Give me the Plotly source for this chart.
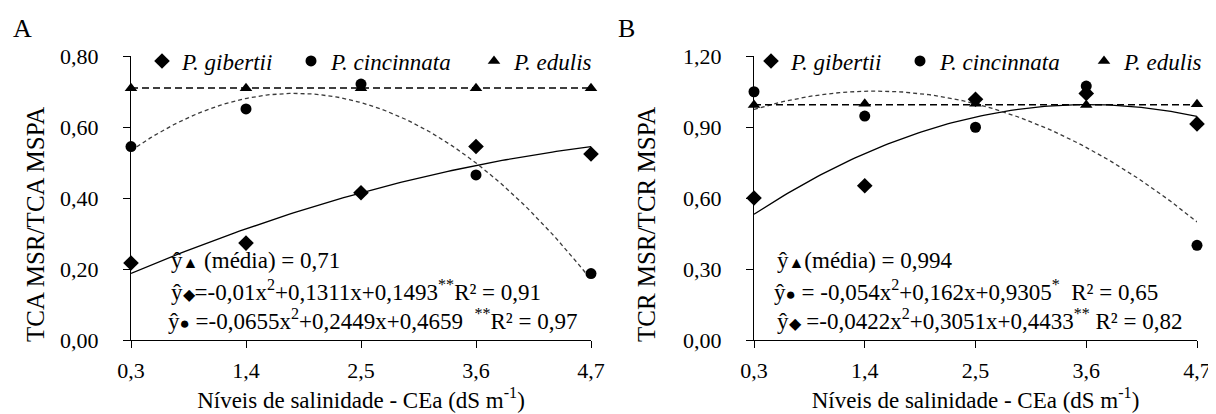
import numpy as np
import plotly.graph_objects as go

# the page body has an 8px default margin; the figure is sized to fill the rest
PAGE_W, PAGE_H, OFF = 1216, 414, 8
W, H = PAGE_W - OFF, PAGE_H - OFF
SERIF = "Liberation Serif"

# ---------------- data ----------------
salinity = [0.3, 1.4, 2.5, 3.6, 4.7]
salinity_labels = ["0,3", "1,4", "2,5", "3,6", "4,7"]
species = ["P. gibertii", "P. cincinnata", "P. edulis"]

# Panel A: TCA MSR/TCA MSPA
a_gibertii = [0.217, 0.273, 0.415, 0.545, 0.524]
a_cincinnata = [0.545, 0.651, 0.721, 0.465, 0.187]
a_edulis = [0.709, 0.709, 0.709, 0.709, 0.709]
a_edulis_mean = 0.71
a_gibertii_coef = [-0.01, 0.1311, 0.1493]
a_cincinnata_coef = [-0.0655, 0.2449, 0.4659]
a_yticks = [0.0, 0.2, 0.4, 0.6, 0.8]
a_ytitle = "TCA MSR/TCA MSPA"
a_eq = [
    "ŷ<span style='font-size:16px'>▲</span> (média) = 0,71",
    "ŷ<span style='font-size:16px'>◆</span>=-0,01x<sup>2</sup>+0,1311x+0,1493<sup>**</sup>R² = 0,91",
    "ŷ<span style='font-size:17px'>●</span> =-0,0655x<sup>2</sup>+0,2449x+0,4659\u00a0\u00a0<sup>**</sup>R² = 0,97",
]

# Panel B: TCR MSR/TCR MSPA
b_gibertii = [0.600, 0.652, 1.017, 1.042, 0.913]
b_cincinnata = [1.049, 0.946, 0.899, 1.073, 0.400]
b_edulis = [0.993, 0.998, 0.998, 0.993, 0.996]
b_edulis_mean = 0.994
b_gibertii_coef = [-0.0422, 0.3051, 0.4433]
b_cincinnata_coef = [-0.054, 0.162, 0.9305]
b_yticks = [0.0, 0.3, 0.6, 0.9, 1.2]
b_ytitle = "TCR MSR/TCR MSPA"
b_eq = [
    "ŷ<span style='font-size:16px'>▲</span>(média) = 0,994",
    "ŷ<span style='font-size:17px'>●</span> = -0,054x<sup>2</sup>+0,162x+0,9305<sup>*</sup>\u00a0 R² = 0,65",
    "ŷ<span style='font-size:16px'>◆</span> =-0,0422x<sup>2</sup>+0,3051x+0,4433<sup>**</sup> R² = 0,82",
]

xtitle = "Níveis de salinidade - CEa (dS m<sup>-1</sup>)"


def px_x(p):
    return (p - OFF) / W


def px_y(p):
    return 1 - (p - OFF) / H


fig = go.Figure()
x_fit = np.linspace(salinity[0], salinity[-1], 120)
symbols = [("diamond", 12), ("circle", 11), ("triangle-up", 11)]


def add_panel(xa, ya, legs, series, edu_mean, gcoef, ccoef):
    # fitted curves
    fig.add_trace(go.Scatter(x=x_fit, y=np.polyval(gcoef, x_fit), mode="lines",
                             line=dict(color="black", width=1.3), showlegend=False,
                             xaxis=xa, yaxis=ya, hoverinfo="skip"))
    fig.add_trace(go.Scatter(x=x_fit, y=np.polyval(ccoef, x_fit), mode="lines",
                             line=dict(color="#3a3a3a", width=1.3, dash="4px,3px"),
                             showlegend=False, xaxis=xa, yaxis=ya, hoverinfo="skip"))
    fig.add_trace(go.Scatter(x=[salinity[0], salinity[-1]], y=[edu_mean, edu_mean],
                             mode="lines", line=dict(color="black", width=1.4, dash="7px,4px"),
                             showlegend=False, xaxis=xa, yaxis=ya, hoverinfo="skip"))
    # observed points
    for vals, name, (sym, size), leg in zip(series, species, symbols, legs):
        fig.add_trace(go.Scatter(x=salinity, y=vals, mode="markers", name=f"<i>{name}</i>",
                                 marker=dict(symbol=sym, size=size, color="black"),
                                 cliponaxis=False, xaxis=xa, yaxis=ya, legend=leg))


add_panel("x", "y", ["legend", "legend2", "legend3"],
          [a_gibertii, a_cincinnata, a_edulis], a_edulis_mean, a_gibertii_coef, a_cincinnata_coef)
add_panel("x2", "y2", ["legend4", "legend5", "legend6"],
          [b_gibertii, b_cincinnata, b_edulis], b_edulis_mean, b_gibertii_coef, b_cincinnata_coef)

tickfont = dict(family=SERIF, size=22, color="black")
common_x = dict(range=[salinity[0], salinity[-1]], tickvals=salinity, ticktext=salinity_labels,
                showline=True, linecolor="black", linewidth=1.3, ticks="outside", ticklen=7,
                tickwidth=1.3, tickcolor="black", showgrid=False, zeroline=False,
                tickfont=tickfont, ticklabelstandoff=3, automargin=False,
                title=dict(text=xtitle, font=dict(family=SERIF, size=23, color="black"), standoff=10))
common_y = dict(showline=True, linecolor="black", linewidth=1.3, ticks="outside", ticklen=7,
                tickwidth=1.3, tickcolor="black", showgrid=False, zeroline=False,
                tickfont=tickfont, tickformat=".2f", ticklabelstandoff=20, automargin=False)

y_dom = [px_y(340), px_y(56)]
layout = dict(
    width=W, height=H,
    margin=dict(l=0, r=0, t=0, b=0, autoexpand=False),
    paper_bgcolor="white", plot_bgcolor="white",
    separators=", ",
    font=dict(family=SERIF, color="black"),
    xaxis=dict(domain=[px_x(131), px_x(591)], anchor="y", **common_x),
    yaxis=dict(domain=y_dom, anchor="x", range=[0, 0.8], tickvals=a_yticks, **common_y),
    xaxis2=dict(domain=[px_x(754), px_x(1197)], anchor="y2", **common_x),
    yaxis2=dict(domain=y_dom, anchor="x2", range=[0, 1.2], tickvals=b_yticks, **common_y),
)
# one legend box per entry, placed where each entry sits in the reference
legend_x = [142, 291, 474, 751, 900, 1084]
for i, lx in enumerate(legend_x):
    key = "legend" if i == 0 else f"legend{i + 1}"
    layout[key] = dict(x=px_x(lx), y=px_y(61), xanchor="left", yanchor="middle",
                       orientation="h", font=dict(family=SERIF, size=23, color="black"),
                       bgcolor="rgba(0,0,0,0)")
fig.update_layout(**layout)

ann = []
for txt, x0 in [("A", 11), ("B", 616)]:
    ann.append(dict(text=txt, x=px_x(x0), y=px_y(28), xref="paper", yref="paper",
                    xanchor="left", yanchor="middle", showarrow=False,
                    font=dict(family=SERIF, size=26, color="black")))
for txt, cx in [(a_ytitle, 36), (b_ytitle, 647)]:
    ann.append(dict(text=txt, x=px_x(cx), y=px_y(225), xref="paper", yref="paper",
                    xanchor="center", yanchor="middle", textangle=-90, showarrow=False,
                    font=dict(family=SERIF, size=25, color="black")))
for lines, x0s in [(a_eq, [169, 169, 166]), (b_eq, [775, 772, 775])]:
    for txt, x0, yc in zip(lines, x0s, [260, 290, 319]):
        ann.append(dict(text=txt, x=px_x(x0), y=px_y(yc), xref="paper", yref="paper",
                        xanchor="left", yanchor="middle", showarrow=False,
                        font=dict(family=SERIF, size=23, color="black")))
fig.update_layout(annotations=ann)

fig.write_html("out.html")
